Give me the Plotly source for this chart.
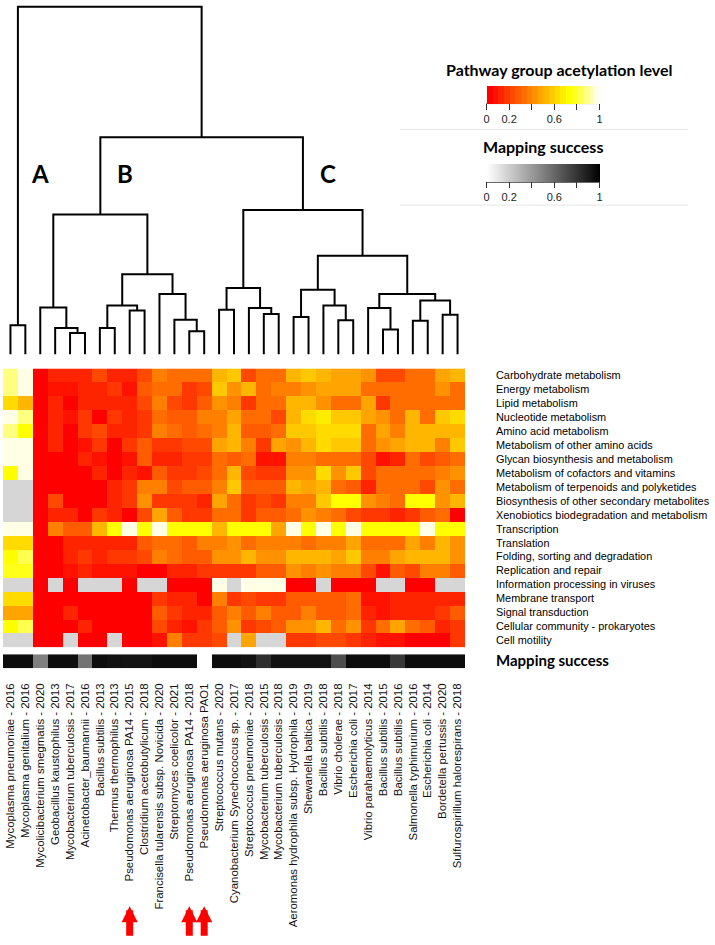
import colorsys
import plotly.graph_objects as go

# ---------------- data ----------------
organisms = [
    "Mycoplasma pneumoniae - 2016", "Mycoplasma genitalium - 2016",
    "Mycolicibacterium smegmatis - 2020", "Geobacillus kaustophilus - 2013",
    "Mycobacterium tuberculosis - 2017", "Acinetobacter_baumannii - 2016",
    "Bacillus subtilis - 2013", "Thermus thermophilus - 2013",
    "Pseudomonas aeruginosa PA14 - 2015", "Clostridium acetobutylicum - 2018",
    "Francisella tularensis subsp. Novicida - 2020", "Streptomyces coelicolor - 2021",
    "Pseudomonas aeruginosa PA14 - 2018", "Pseudomonas aeruginosa PAO1",
    "Streptococcus mutans - 2020", "Cyanobacterium Synechococcus sp. - 2017",
    "Streptococcus pneumoniae - 2018", "Mycobacterium tuberculosis - 2015",
    "Mycobacterium tuberculosis - 2018", "Aeromonas hydrophila subsp. Hydrophila - 2019",
    "Shewanella baltica - 2019", "Bacillus subtilis - 2018", "Vibrio cholerae - 2018",
    "Escherichia coli - 2017", "Vibrio parahaemolyticus - 2014", "Bacillus subtilis - 2015",
    "Bacillus subtilis - 2016", "Salmonella typhimurium - 2016", "Escherichia coli - 2014",
    "Bordetella pertussis - 2020", "Sulfurospirillum halorespirans - 2018",
]

pathways = [
    "Carbohydrate metabolism", "Energy metabolism", "Lipid metabolism",
    "Nucleotide metabolism", "Amino acid metabolism", "Metabolism of other amino acids",
    "Glycan biosynthesis and metabolism", "Metabolism of cofactors and vitamins",
    "Metabolism of terpenoids and polyketides", "Biosynthesis of other secondary metabolites",
    "Xenobiotics biodegradation and metabolism", "Transcription", "Translation",
    "Folding, sorting and degradation", "Replication and repair",
    "Information processing in viruses", "Membrane transport", "Signal transduction",
    "Cellular community - prokaryotes", "Cell motility",
]

N = None
# acetylation level per organism (one list per column, values in pathway order)
acetylation_by_organism = [
    [0.87, 0.87, 0.63, 0.96, 0.85, 0.96, 0.96, 0.74, N, N, N, 0.96, 0.6, 0.74, 0.78, N, 0.6, 0.48, 0.74, N],
    [0.96, 0.96, 0.52, 0.86, 0.72, 0.96, 0.96, 0.96, N, N, N, 0.96, 0.6, 0.8, 0.78, N, 0.6, 0.48, 0.8, N],
    [0.02, 0.02, 0.02, 0.02, 0.02, 0.02, 0.02, 0.02, 0.02, 0.02, 0.02, 0.02, 0.02, 0.02, 0.02, 0.02, 0.02, 0.02, 0.02, 0.02],
    [0.12, 0.06, 0.14, 0.12, 0.12, 0.1, 0.04, 0.03, 0.03, 0.2, 0.14, 0.38, 0.03, 0.04, 0.02, N, 0.02, 0.03, 0.04, 0.03],
    [0.12, 0.05, 0.03, 0.05, 0.04, 0.04, 0.03, 0.03, 0.03, 0.03, 0.12, 0.25, 0.12, 0.12, 0.06, 0.02, 0.02, 0.1, 0.04, N],
    [0.12, 0.12, 0.12, 0.18, 0.15, 0.05, 0.12, 0.04, 0.03, 0.04, 0.03, 0.25, 0.13, 0.18, 0.12, N, 0.03, 0.03, 0.14, 0.03],
    [0.24, 0.13, 0.13, 0.03, 0.2, 0.17, 0.05, 0.13, 0.04, 0.04, 0.18, 0.5, 0.13, 0.14, 0.05, N, 0.03, 0.03, 0.04, 0.03],
    [0.13, 0.17, 0.13, 0.15, 0.13, 0.03, 0.03, 0.04, 0.12, 0.12, 0.13, 0.72, 0.12, 0.17, 0.05, N, 0.03, 0.03, 0.04, N],
    [0.13, 0.05, 0.12, 0.13, 0.13, 0.15, 0.05, 0.12, 0.15, 0.17, 0.02, 0.97, 0.14, 0.15, 0.06, 0.02, 0.03, 0.03, 0.04, 0.03],
    [0.2, 0.26, 0.22, 0.18, 0.18, 0.28, 0.25, 0.06, 0.38, 0.4, 0.2, 0.72, 0.25, 0.2, 0.03, N, 0.03, 0.04, 0.04, 0.04],
    [0.38, 0.3, 0.38, 0.32, 0.35, 0.18, 0.12, 0.27, 0.38, 0.18, 0.47, 0.97, 0.33, 0.35, 0.03, N, 0.15, 0.27, 0.24, 0.05],
    [0.3, 0.32, 0.2, 0.27, 0.3, 0.18, 0.14, 0.18, 0.23, 0.18, 0.27, 0.72, 0.32, 0.3, 0.12, 0.03, 0.12, 0.16, 0.14, 0.38],
    [0.3, 0.18, 0.18, 0.27, 0.27, 0.2, 0.15, 0.18, 0.25, 0.15, 0.18, 0.72, 0.27, 0.25, 0.12, 0.02, 0.12, 0.12, 0.05, 0.15],
    [0.3, 0.2, 0.25, 0.35, 0.3, 0.2, 0.16, 0.2, 0.25, 0.1, 0.17, 0.72, 0.35, 0.27, 0.15, 0.02, 0.04, 0.14, 0.16, 0.15],
    [0.5, 0.55, 0.42, 0.38, 0.38, 0.45, 0.3, 0.3, 0.38, 0.48, 0.3, 0.5, 0.38, 0.4, 0.15, 0.97, 0.35, 0.25, 0.27, 0.2],
    [0.56, 0.42, 0.35, 0.47, 0.5, 0.5, 0.27, 0.53, 0.56, 0.3, 0.3, 0.72, 0.42, 0.42, 0.17, N, 0.18, 0.38, 0.42, N],
    [0.23, 0.52, 0.18, 0.3, 0.27, 0.38, 0.3, 0.2, 0.27, 0.18, 0.18, 0.72, 0.33, 0.53, 0.18, 0.97, 0.2, 0.25, 0.18, 0.47],
    [0.32, 0.3, 0.3, 0.3, 0.27, 0.17, 0.06, 0.17, 0.27, 0.2, 0.25, 0.72, 0.35, 0.42, 0.27, 0.97, 0.15, 0.35, 0.2, N],
    [0.3, 0.38, 0.3, 0.2, 0.3, 0.45, 0.06, 0.18, 0.27, 0.15, 0.25, 0.45, 0.38, 0.4, 0.27, 0.97, 0.18, 0.25, 0.25, N],
    [0.5, 0.38, 0.5, 0.53, 0.55, 0.42, 0.35, 0.4, 0.53, 0.38, 0.3, 0.97, 0.35, 0.5, 0.4, 0.03, 0.27, 0.27, 0.4, 0.15],
    [0.55, 0.42, 0.53, 0.6, 0.57, 0.53, 0.38, 0.42, 0.45, 0.38, 0.42, 0.72, 0.3, 0.53, 0.38, 0.03, 0.27, 0.35, 0.42, 0.18],
    [0.53, 0.45, 0.42, 0.68, 0.6, 0.6, 0.3, 0.6, 0.53, 0.56, 0.38, 0.97, 0.38, 0.53, 0.42, N, 0.27, 0.27, 0.53, 0.2],
    [0.45, 0.45, 0.32, 0.55, 0.6, 0.57, 0.32, 0.42, 0.32, 0.72, 0.3, 0.72, 0.38, 0.45, 0.38, 0.03, 0.27, 0.27, 0.3, 0.2],
    [0.45, 0.45, 0.32, 0.55, 0.6, 0.57, 0.32, 0.55, 0.27, 0.74, 0.2, 0.97, 0.45, 0.55, 0.38, 0.03, 0.3, 0.3, 0.42, 0.15],
    [0.42, 0.32, 0.45, 0.45, 0.3, 0.32, 0.2, 0.23, 0.12, 0.42, 0.15, 0.72, 0.3, 0.38, 0.2, 0.03, 0.06, 0.12, 0.18, 0.12],
    [0.23, 0.3, 0.15, 0.42, 0.45, 0.42, 0.06, 0.32, 0.3, 0.38, 0.15, 0.72, 0.3, 0.38, 0.05, N, 0.06, 0.06, 0.3, 0.05],
    [0.23, 0.3, 0.3, 0.32, 0.35, 0.45, 0.13, 0.32, 0.3, 0.3, 0.12, 0.72, 0.3, 0.45, 0.27, N, 0.1, 0.12, 0.45, 0.05],
    [0.32, 0.32, 0.3, 0.5, 0.52, 0.5, 0.3, 0.32, 0.32, 0.72, 0.18, 0.72, 0.45, 0.5, 0.2, 0.02, 0.12, 0.12, 0.3, 0.04],
    [0.32, 0.32, 0.3, 0.32, 0.5, 0.5, 0.2, 0.32, 0.2, 0.74, 0.27, 0.97, 0.38, 0.5, 0.38, 0.02, 0.12, 0.12, 0.27, 0.04],
    [0.45, 0.42, 0.32, 0.56, 0.5, 0.38, 0.27, 0.38, 0.42, 0.42, 0.3, 0.72, 0.5, 0.5, 0.38, N, 0.12, 0.15, 0.12, 0.04],
    [0.5, 0.3, 0.32, 0.6, 0.53, 0.56, 0.3, 0.42, 0.3, 0.5, 0.04, 0.72, 0.42, 0.42, 0.27, N, 0.12, 0.25, 0.15, 0.15],
]

mapping_success = [0.95, 0.95, 0.5, 0.95, 0.95, 0.55, 0.95, 0.93, 0.92, 0.92, 0.95, 0.95, 0.95, N,
                   0.95, 0.95, 0.93, 0.82, 0.93, 0.93, 0.93, 0.93, 0.7, 0.95, 0.95, 0.95, 0.78,
                   0.95, 0.95, 0.95, 0.95]

# hierarchical clustering of organisms: (child a, child b, merge height); leaves 0..30, new nodes 31..
merges = [
    (0, 1, 29.3), (4, 5, 21.7), (3, 32, 26.7), (2, 33, 47.3), (6, 7, 26.7),
    (8, 9, 44.3), (35, 36, 49.3), (12, 13, 23.3), (11, 38, 35.0), (10, 39, 60.7),
    (37, 40, 80.7), (34, 41, 140.7), (14, 15, 45.0), (17, 18, 40.7), (16, 44, 46.7),
    (43, 45, 66.7), (19, 20, 37.7), (22, 23, 34.3), (21, 48, 49.3), (47, 49, 65.0),
    (25, 26, 25.0), (24, 51, 46.7), (27, 28, 34.0), (29, 30, 40.0), (53, 54, 54.3),
    (52, 55, 60.7), (50, 56, 99.3), (46, 57, 145.0), (42, 58, 218.3), (31, 59, 349.3),
]

cluster_labels = ["A", "B", "C"]
highlighted = [8, 12, 13]  # Pseudomonas aeruginosa datasets marked with arrows

# ---------------- helpers ----------------
W, H = 715, 945
def py(px):  # pixel-from-top -> paper y
    return 1 - px / H
def pxx(px):
    return px / W

# R heat.colors(20) as a stepped colorscale
n = 20
jn = n // 4
inn = n - jn
cols = []
for k in range(inn):
    cols.append(colorsys.hsv_to_rgb((1 / 6) * k / (inn - 1), 1, 1))
for k in range(jn):
    s = (1 - 1 / (2 * jn)) - k * ((1 - 1 / (2 * jn)) - 1 / (2 * jn)) / (jn - 1)
    cols.append(colorsys.hsv_to_rgb(1 / 6, s, 1))
heat_scale = []
for k, (r, g, b) in enumerate(cols):
    c = f"rgb({round(r*255)},{round(g*255)},{round(b*255)})"
    heat_scale.append([k / n, c])
    heat_scale.append([(k + 1) / n, c])

z = [[acetylation_by_organism[c][r] for c in range(len(organisms))] for r in range(len(pathways))]
z_missing = [[1 if v is None else None for v in row] for row in z]
xs = list(range(len(organisms)))

fig = go.Figure()

# missing values layer (grey)
fig.add_trace(go.Heatmap(
    z=z_missing, x=xs, y=pathways, colorscale=[[0, "#d6d6d6"], [1, "#d6d6d6"]],
    showscale=False, hoverinfo="skip", xaxis="x", yaxis="y"))

cb_common = dict(orientation="h", x=pxx(543), xanchor="center", yanchor="top",
                 len=113 / W, lenmode="fraction", thickness=18, thicknessmode="pixels",
                 xpad=0, ypad=0, outlinewidth=0,
                 tickvals=[0, 0.2, 0.4, 0.6, 0.8, 1], ticktext=["0", "0.2", "", "0.6", "", "1"],
                 ticks="outside", ticklen=6, tickcolor="#333", tickwidth=1,
                 tickfont=dict(size=11, color="#222", family="Liberation Sans, Arial"))

fig.add_trace(go.Heatmap(
    z=z, x=xs, y=pathways, colorscale=heat_scale, zmin=0, zmax=1,
    xaxis="x", yaxis="y", hoverinfo="skip",
    colorbar=dict(cb_common, y=py(83)),
))

fig.add_trace(go.Heatmap(
    z=[mapping_success], x=xs, y=["Mapping success"],
    colorscale=[[0, "#ffffff"], [1, "#000000"]], zmin=0, zmax=1,
    xaxis="x2", yaxis="y2", hoverinfo="skip",
    colorbar=dict(cb_common, y=py(162)),
))

# dendrogram
pos = {i: (float(i), 0.0) for i in range(len(organisms))}
lx, ly = [], []
for k, (a, b, h) in enumerate(merges):
    xa, ha = pos[a]
    xb, hb = pos[b]
    lx += [xa, xa, xb, xb, None]
    ly += [ha, h, h, hb, None]
    pos[len(organisms) + k] = ((xa + xb) / 2, h)
fig.add_trace(go.Scatter(x=lx, y=ly, mode="lines", line=dict(color="black", width=2),
                         hoverinfo="skip", xaxis="x3", yaxis="y3", showlegend=False))

x_dom = [pxx(3), pxx(465)]
label_font = dict(family="Liberation Sans, Arial", size=11.4, color="#111")
fig.update_layout(
    width=W, height=H, margin=dict(l=0, r=0, t=0, b=0),
    paper_bgcolor="white", plot_bgcolor="white", showlegend=False,
    xaxis=dict(domain=x_dom, range=[-0.5, 30.5], showticklabels=False, showgrid=False,
               zeroline=False, ticks="", anchor="y"),
    yaxis=dict(domain=[py(647), py(367)], autorange="reversed", side="right", anchor="x",
               showgrid=False, zeroline=False, ticks="", ticklabelstandoff=30,
               tickfont=dict(family="Liberation Sans, Arial", size=10.9, color="#000")),
    xaxis2=dict(domain=x_dom, range=[-0.5, 30.5], anchor="y2", tickmode="array",
                tickvals=xs, ticktext=organisms, tickangle=-90, ticks="",
                showgrid=False, zeroline=False, ticklabelstandoff=12, tickfont=label_font),
    yaxis2=dict(domain=[py(668), py(654)], side="right", anchor="x2", showgrid=False,
                zeroline=False, ticks="", ticklabelstandoff=30,
                tickfont=dict(family="Lato", size=15, color="#000", weight="bold")),
    xaxis3=dict(domain=x_dom, range=[-0.5, 30.5], anchor="y3", visible=False),
    yaxis3=dict(domain=[py(353), py(1)], range=[0, 352], anchor="x3", visible=False),
)

annotations = []
for lab, xp in zip(cluster_labels, [39.5, 124.5, 328]):
    annotations.append(dict(text=lab, x=pxx(xp), y=py(171.5), xref="paper", yref="paper",
                            xanchor="center", yanchor="middle", showarrow=False,
                            font=dict(family="Lato", size=24, color="black", weight="bold")))
annotations.append(dict(text="Pathway group acetylation level", x=pxx(559), y=py(67),
                        xref="paper", yref="paper", xanchor="center", yanchor="middle",
                        showarrow=False,
                        font=dict(family="Lato", size=16, color="black", weight="bold")))
annotations.append(dict(text="Mapping success", x=pxx(543), y=py(144),
                        xref="paper", yref="paper", xanchor="center", yanchor="middle",
                        showarrow=False,
                        font=dict(family="Lato", size=16, color="black", weight="bold")))
for i in highlighted:
    annotations.append(dict(text="", x=i, y=py(907), xref="x2", yref="paper",
                            ax=0, ay=31, axref="pixel", ayref="pixel", showarrow=True,
                            arrowhead=2, arrowwidth=7, arrowsize=0.46, arrowcolor="#ff0000"))
fig.update_layout(annotations=annotations)

shapes = []
for yy in [127, 203]:
    shapes.append(dict(type="line", xref="paper", yref="paper", x0=pxx(400), x1=pxx(688),
                       y0=py(yy), y1=py(yy), line=dict(color="#e6e6e6", width=1)))
for yy in [101, 180]:
    shapes.append(dict(type="line", xref="paper", yref="paper", x0=pxx(486.5), x1=pxx(599.5),
                       y0=py(yy), y1=py(yy), line=dict(color="#333", width=1)))
fig.update_layout(shapes=shapes)

fig.write_html("out.html", config={"displayModeBar": False},
               post_script="document.body.style.margin='0';document.body.style.padding='0';")
